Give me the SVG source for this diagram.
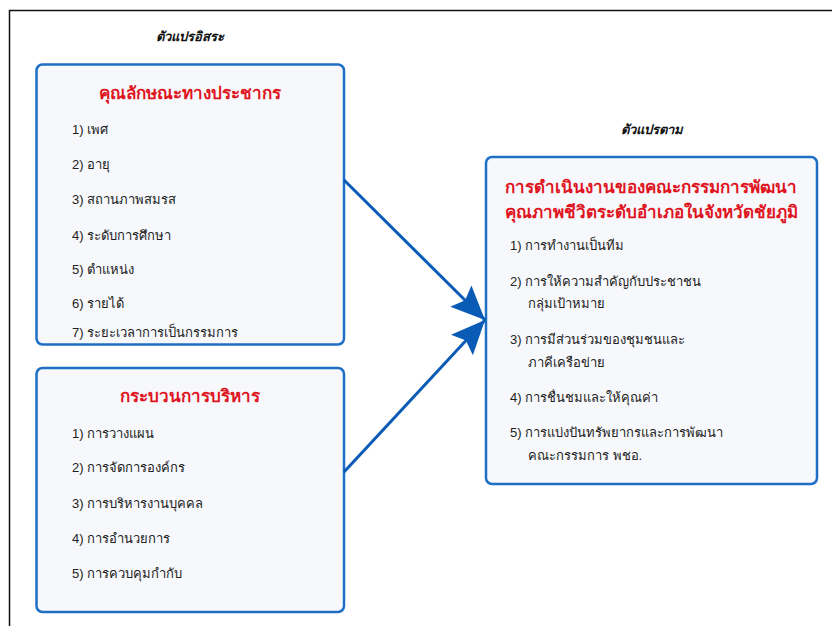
<svg xmlns="http://www.w3.org/2000/svg" width="832" height="626" viewBox="0 0 832 626">
<defs>
<style>
.box{fill:#f6f8fb;stroke:#1f6fc5;stroke-width:2.5}
.title{font-family:"Liberation Sans","Noto Sans",sans-serif;font-size:17px;font-weight:bold;fill:#e0141e;text-anchor:middle}
.item{font-family:"Liberation Sans","Noto Sans",sans-serif;font-size:13px;fill:#222}
.lab{font-family:"Liberation Sans","Noto Sans",sans-serif;font-size:13px;font-style:italic;font-weight:bold;fill:#111;text-anchor:middle}
.conn{stroke:#0a5bb5;stroke-width:3;fill:none}
</style>
<marker id="ah" markerUnits="userSpaceOnUse" markerWidth="36" markerHeight="32" refX="34" refY="15" orient="auto">
<path d="M0,0 L34,15 L0,30 L6,15 Z" fill="#0a5bb5"/>
</marker>
</defs>
<rect x="0" y="0" width="832" height="626" fill="#fff"/>
<path d="M9.5,626 L9.5,10.5 L832,10.5" fill="none" stroke="#111" stroke-width="1.5"/>
<text class="lab" x="190" y="41">ตัวแปรอิสระ</text>
<text class="lab" x="652" y="134">ตัวแปรตาม</text>
<g id="demographic">
<rect class="box" x="36.5" y="64.5" width="307.5" height="280" rx="6"/>
<text class="title" x="190" y="99">คุณลักษณะทางประชากร</text>
<text class="item" x="72" y="134">1) เพศ</text>
<text class="item" x="72" y="169">2) อายุ</text>
<text class="item" x="72" y="204">3) สถานภาพสมรส</text>
<text class="item" x="72" y="240">4) ระดับการศึกษา</text>
<text class="item" x="72" y="274">5) ตำแหน่ง</text>
<text class="item" x="72" y="308">6) รายได้</text>
<text class="item" x="72" y="337">7) ระยะเวลาการเป็นกรรมการ</text>
</g>
<g id="management">
<rect class="box" x="36.5" y="368" width="307.5" height="244" rx="6"/>
<text class="title" x="190" y="402">กระบวนการบริหาร</text>
<text class="item" x="72" y="438">1) การวางแผน</text>
<text class="item" x="72" y="472">2) การจัดการองค์กร</text>
<text class="item" x="72" y="508">3) การบริหารงานบุคคล</text>
<text class="item" x="72" y="543">4) การอำนวยการ</text>
<text class="item" x="72" y="578">5) การควบคุมกำกับ</text>
</g>
<g id="outcome">
<rect class="box" x="486" y="157" width="331" height="327" rx="6"/>
<text class="title" x="651" y="193">การดำเนินงานของคณะกรรมการพัฒนา</text>
<text class="title" x="651" y="218">คุณภาพชีวิตระดับอำเภอในจังหวัดชัยภูมิ</text>
<text class="item" x="510" y="250">1) การทำงานเป็นทีม</text>
<text class="item" x="510" y="286">2) การให้ความสำคัญกับประชาชน</text>
<text class="item" x="528" y="308">กลุ่มเป้าหมาย</text>
<text class="item" x="510" y="344">3) การมีส่วนร่วมของชุมชนและ</text>
<text class="item" x="528" y="367">ภาคีเครือข่าย</text>
<text class="item" x="510" y="402">4) การชื่นชมและให้คุณค่า</text>
<text class="item" x="510" y="437">5) การแบ่งปันทรัพยากรและการพัฒนา</text>
<text class="item" x="528" y="460">คณะกรรมการ พชอ.</text>
</g>
<g id="connectors">
<line class="conn" x1="344" y1="180" x2="485" y2="320" marker-end="url(#ah)"/>
<line class="conn" x1="344" y1="472" x2="485" y2="320" marker-end="url(#ah)"/>
</g>
</svg>
